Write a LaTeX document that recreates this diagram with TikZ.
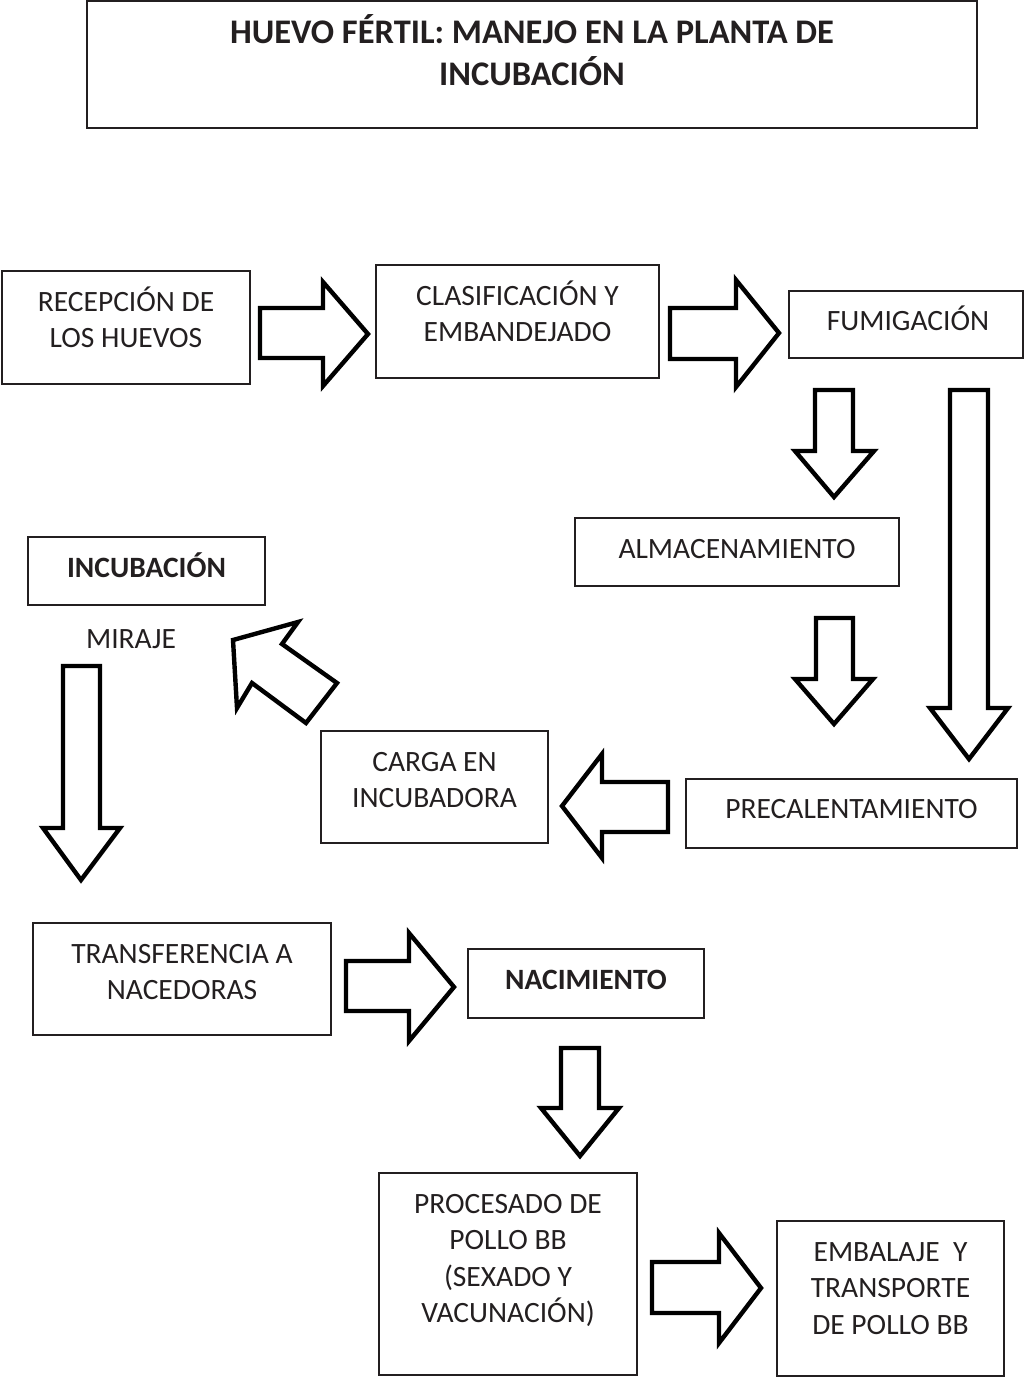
\documentclass[tikz,border=0pt]{standalone}
\usepackage{fontspec}
\setmainfont{Carlito}
\definecolor{ink}{HTML}{231F20}
\begin{document}
\begin{tikzpicture}[x=1pt,y=-1pt,
  box/.style={draw=ink, line width=1.6pt, inner sep=0pt},
  txt/.style={text=ink, font=\fontsize{29.5}{36.5}\selectfont, align=center, inner sep=0pt, anchor=base},
  btxt/.style={txt, font=\fontsize{29.5}{43}\selectfont\bfseries},
  ttxt/.style={txt, font=\fontsize{34.5}{42}\selectfont\bfseries},
  barrow/.style={draw=black, line width=4.4pt, fill=white, line join=miter, miter limit=10}]
\useasboundingbox (0,0) rectangle (1025,1378);

% boxes
\node[box, minimum width=890, minimum height=127] (title) at (532,64.5) {};
\node[box, minimum width=248, minimum height=113] (recep) at (126,327.5) {};
\node[box, minimum width=283, minimum height=113] (clasif) at (517.5,321.5) {};
\node[box, minimum width=234, minimum height=67] (fumig) at (906,324.5) {};
\node[box, minimum width=324, minimum height=68] (almac) at (737,552) {};
\node[box, minimum width=237, minimum height=68] (incub) at (146.5,571) {};
\node[box, minimum width=227, minimum height=112] (carga) at (434.5,787) {};
\node[box, minimum width=331, minimum height=69] (precal) at (851.5,813.5) {};
\node[box, minimum width=298, minimum height=112] (transf) at (182,979) {};
\node[box, minimum width=236, minimum height=69] (nacim) at (586,983.5) {};
\node[box, minimum width=258, minimum height=202] (proc) at (508,1274) {};
\node[box, minimum width=227, minimum height=155] (embal) at (890.5,1298.5) {};

% texts (base anchor = baseline of the last line)
\node[ttxt] (title-t) at (532,86) {HUEVO FÉRTIL: MANEJO EN LA PLANTA DE\\INCUBACIÓN};
\node[txt] (recep-t) at (126,347.5) {RECEPCIÓN DE\\LOS HUEVOS};
\node[txt] (clasif-t) at (517.5,341.5) {CLASIFICACIÓN Y\\EMBANDEJADO};
\node[txt] (fumig-t) at (908,330) {FUMIGACIÓN};
\node[txt] (almac-t) at (737,558) {ALMACENAMIENTO};
\node[btxt] (incub-t) at (146.5,577) {INCUBACIÓN};
\node[txt] (miraje) at (131,648) {MIRAJE};
\node[txt] (carga-t) at (434.5,807.5) {CARGA EN\\INCUBADORA};
\node[txt] (precal-t) at (851.5,818) {PRECALENTAMIENTO};
\node[txt] (transf-t) at (182,999.5) {TRANSFERENCIA A\\NACEDORAS};
\node[btxt] (nacim-t) at (586,989) {NACIMIENTO};
\node[txt] (proc-t) at (508,1322.5) {PROCESADO DE\\POLLO BB\\(SEXADO Y\\VACUNACIÓN)};
\node[txt] (embal-t) at (890.5,1334) {EMBALAJE~~Y\\TRANSPORTE\\DE POLLO BB};

% block arrows
\draw[barrow] (260,308) -- (323,308) -- (323,282) -- (368,334) -- (323,386) -- (323,358) -- (260,358) -- cycle;
\draw[barrow] (670,308) -- (736,308) -- (736,280) -- (779,333) -- (736,387) -- (736,359) -- (670,359) -- cycle;
\draw[barrow] (815,390) -- (853,390) -- (853,451) -- (874,451) -- (834,497) -- (795,451) -- (815,451) -- cycle;
\draw[barrow] (950,390) -- (988,390) -- (988,708) -- (1008,708) -- (969,759) -- (930,708) -- (950,708) -- cycle;
\draw[barrow] (816,618) -- (853,618) -- (853,679) -- (873,679) -- (834,724) -- (795,679) -- (816,679) -- cycle;
\draw[barrow] (668,782) -- (602,782) -- (602,754) -- (562,806) -- (602,858) -- (602,832) -- (668,832) -- cycle;
\draw[barrow] (233,640) -- (298,622) -- (282,644) -- (337,683) -- (306,723) -- (252,683) -- (237,708) -- cycle;
\draw[barrow] (63,666) -- (100,666) -- (100,828) -- (120,828) -- (81,880) -- (43,828) -- (63,828) -- cycle;
\draw[barrow] (346,961) -- (409,961) -- (409,933) -- (454,987) -- (409,1041) -- (409,1011) -- (346,1011) -- cycle;
\draw[barrow] (561,1048) -- (599,1048) -- (599,1108) -- (619,1108) -- (580,1156) -- (541,1108) -- (561,1108) -- cycle;
\draw[barrow] (652,1262) -- (719,1262) -- (719,1233) -- (761,1288) -- (719,1343) -- (719,1313) -- (652,1313) -- cycle;
\end{tikzpicture}
\end{document}
